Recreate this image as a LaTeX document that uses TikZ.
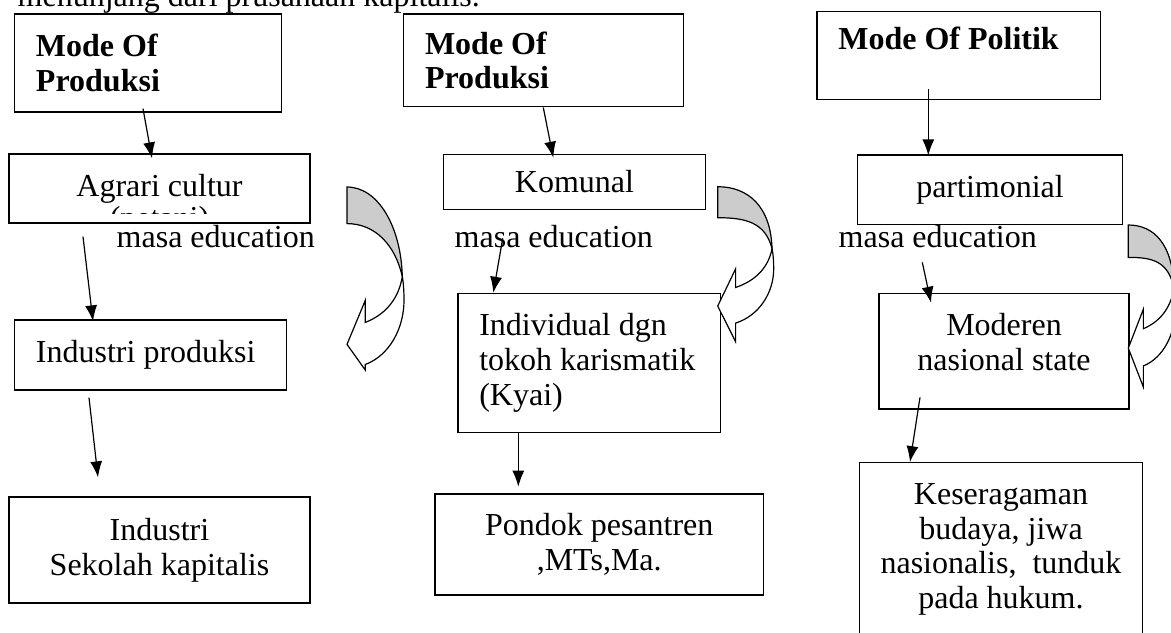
\documentclass[tikz,border=0pt]{standalone}
\usepackage{fontspec}
\setmainfont{Liberation Serif}
\usetikzlibrary{positioning}
\usetikzlibrary{calc}
\usetikzlibrary{arrows.meta}

\tikzset{
box/.style={draw, line width=0.9pt, rectangle, align=center, inner sep=0pt},
leftbox/.style={box, align=flush left, inner xsep=16pt, text width=#1},
arr/.style={-{Latex[length=12pt,width=9pt]}, line width=0.9pt},
}

% panah lengkung: x kiri, y atas, lebar, tinggi, letak ujung (0..1)
\newcommand{\bentarrow}[5]{%
\begin{scope}[shift={(#1,#2)},x=#3,y=-#4,line width=0.9pt]
\pgfmathsetmacro{\tp}{#5}
\pgfmathsetmacro{\ub}{#5-0.24}
\pgfmathsetmacro{\su}{#5-0.12}
\pgfmathsetmacro{\sl}{#5+0.11}
\pgfmathsetmacro{\mt}{#5-0.37}
\filldraw[fill=gray!40] (0,0) .. controls (0.55,0) and (0.95,\mt-0.27) .. (0.97,\mt)
  .. controls (0.85,\mt-0.17) and (0.5,0.2) .. (0,0.2) -- cycle;
\filldraw[fill=white] (0.97,\mt) .. controls (0.9,\mt+0.13) and (0.65,\su-0.04) .. (0.32,\su)
  -- (0.32,\ub) -- (0,\tp) -- (0.32,1) -- (0.32,\sl)
  .. controls (0.75,\sl-0.05) and (1,\mt+0.28) .. (1,\mt+0.13)
  .. controls (1,\mt+0.08) and (0.99,\mt+0.03) .. (0.97,\mt) -- cycle;
\end{scope}}

\begin{document}
\begin{tikzpicture}[x=0.75pt,y=-0.75pt,font=\fontsize{24}{26}\selectfont]
\useasboundingbox (0,0) rectangle (1171,632);

\node[anchor=base west](intro) at (13,6){menunjang dari prusahaan kapitalis.};

% kolom kiri
\node[leftbox=168pt, minimum height=73.5pt](A1) at (148,63){\textbf{Mode Of}\\\textbf{Produksi}};
\node[box, minimum width=225.75pt, minimum height=51.75pt](B1) at (159.5,188.5){Agrari cultur};
\begin{scope}
\clip (B1.north west) rectangle ([shift={(0,-10)}]B1.south east);
\node[anchor=base](petani) at ([shift={(0,4.5)}]B1.south){(petani)};
\end{scope}
\node[anchor=base west](me1) at (112,247){masa education};
\node[leftbox=171.75pt, minimum height=52.5pt](C1) at (150.5,355){Industri produksi};
\node[box, minimum width=225.75pt, minimum height=79.5pt](D1) at (159.5,550){Industri\\Sekolah kapitalis};
\bentarrow{347}{187}{42.75pt}{137.25pt}{0.86}

\path
([shift={(-5,-4)}]A1.south) edge[arr] ([shift={(-7.5,5)}]B1.north)
([shift={(-76.5,13)}]B1.south) edge[arr] ([shift={(-57.5,2)}]C1.north)
([shift={(-61.5,7)}]C1.south) edge[arr] ([shift={(-61.5,-19)}]D1.north);

% kolom tengah
\node[leftbox=178pt, minimum height=69.5pt](A2) at (543.7,60.3){\textbf{Mode Of}\\\textbf{Produksi}};
\node[box, minimum width=196.8pt, minimum height=41.25pt](B2) at (574.5,181.8){Komunal};
\node[anchor=base west](me2) at (450,247){masa education};
\node[leftbox=164.8pt, minimum height=104.5pt](C2) at (589.2,363){Individual dgn\\tokoh karismatik\\(Kyai)};
\node[box, minimum width=246.2pt, minimum height=75.75pt](D2) at (599.2,544.5){Pondok pesantren\\,MTs,Ma.};
\bentarrow{717.7}{186.7}{42pt}{116.25pt}{0.77}

\path
([shift={(-0.4,0.3)}]A2.south) edge[arr] ([shift={(-21.2,4)}]B2.north)
([shift={(52.7,-8.7)}]me2.base west) edge[arr] ([shift={(-95.9,0)}]C2.north)
([shift={(-70.9,-1.7)}]C2.south) edge[arr] ([shift={(-80.9,-6.7)}]D2.north);

% kolom kanan
\node[leftbox=180.6pt, minimum height=65.7pt](A3) at (958.7,55.5){\textbf{Mode Of Politik}\\\mbox{}};
\node[box, minimum width=198.5pt, minimum height=52pt](B3) at (990,189.7){partimonial};
\node[anchor=base west](me3) at (834,247.3){masa education};
\node[box, minimum width=187.5pt, minimum height=86.8pt](C3) at (1004,351.2){Moderen\\nasional state\\[-12.5pt]\mbox{}};
\node[box, minimum width=212.5pt, minimum height=130pt](D3) at (1001,549.4){Keseragaman\\budaya, jiwa\\nasionalis,\ \ tunduk\\pada hukum.};
\bentarrow{1128.3}{225}{35.25pt}{121.5pt}{0.76}

\path
([shift={(-30.4,-11)}]A3.south) edge[arr] ([shift={(-61.7,1)}]B3.north)
([shift={(-67.7,37.4)}]B3.south) edge[arr] ([shift={(-73,10)}]C3.north)
([shift={(-84,-12.3)}]C3.south) edge[arr] ([shift={(-91,0)}]D3.north);
\end{tikzpicture}
\end{document}
